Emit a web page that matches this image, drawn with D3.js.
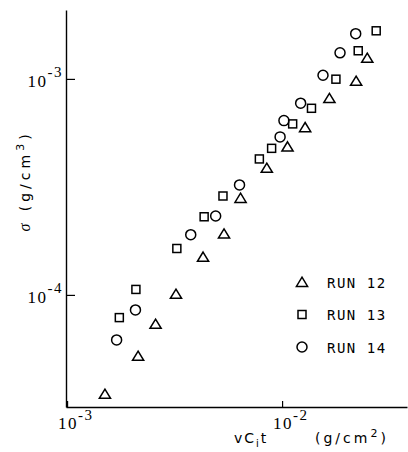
<!DOCTYPE html>
<html><head><meta charset="utf-8">
<script src="https://cdn.jsdelivr.net/npm/d3@7"></script>
<style>body{margin:0;background:#fff;overflow:hidden}</style>
</head><body>
<svg id="c" width="408" height="452"></svg>
<script>
// RUN 12 (triangles)
const run12X = [1.50e-3, 2.14e-3, 2.58e-3, 3.21e-3, 4.29e-3, 5.37e-3, 6.41e-3, 8.49e-3, 1.06e-2, 1.28e-2, 1.66e-2, 2.21e-2, 2.49e-2];
const run12Y = [3.48e-5, 5.22e-5, 7.34e-5, 1.01e-4, 1.50e-4, 1.92e-4, 2.81e-4, 3.87e-4, 4.86e-4, 5.97e-4, 8.14e-4, 9.79e-4, 1.25e-3];
// RUN 13 (squares)
const run13X = [1.75e-3, 2.09e-3, 3.24e-3, 4.34e-3, 5.31e-3, 7.84e-3, 8.94e-3, 1.12e-2, 1.37e-2, 1.78e-2, 2.26e-2, 2.74e-2];
const run13Y = [7.85e-5, 1.06e-4, 1.64e-4, 2.30e-4, 2.87e-4, 4.26e-4, 4.77e-4, 6.19e-4, 7.31e-4, 9.97e-4, 1.35e-3, 1.67e-3];
// RUN 14 (circles)
const run14X = [1.70e-3, 2.08e-3, 3.76e-3, 4.91e-3, 6.34e-3, 9.79e-3, 1.02e-2, 1.22e-2, 1.55e-2, 1.86e-2, 2.20e-2];
const run14Y = [6.19e-5, 8.52e-5, 1.90e-4, 2.32e-4, 3.23e-4, 5.39e-4, 6.41e-4, 7.72e-4, 1.04e-3, 1.32e-3, 1.62e-3];

const seriesNames = ["RUN 12", "RUN 13", "RUN 14"];
const seriesShapes = ["triangle", "square", "circle"];
const xTicks = [1e-3, 1e-2];
const xTickExp = ["-3", "-2"];
const yTicks = [1e-4, 1e-3];
const yTickExp = ["-4", "-3"];

const svg = d3.select("#c");
const W = 408, H = 452;
const m = {left: 66, right: 1, top: 10, bottom: 45};

const x = d3.scaleLog()
  .domain([Math.pow(10, -3.005), Math.pow(10, -1.419)])
  .range([m.left, W - m.right]);
const y = d3.scaleLog()
  .domain([Math.pow(10, -4.519), Math.pow(10, -2.681)])
  .range([H - m.bottom, m.top]);

// axes
const gx = svg.append("g").attr("transform", `translate(0,${H - m.bottom})`)
  .call(d3.axisBottom(x).tickValues(xTicks).tickSizeInner(-6).tickSizeOuter(0).tickFormat(""));
const gy = svg.append("g").attr("transform", `translate(${m.left},0)`)
  .call(d3.axisLeft(y).tickValues(yTicks).tickSizeInner(-9).tickSizeOuter(0).tickFormat(""));
[gx, gy].forEach(g => {
  g.selectAll("path.domain").attr("stroke", "#000").attr("stroke-width", 1.4);
  g.selectAll(".tick line").attr("stroke", "#000").attr("stroke-width", 1.2);
});

const serif = "'Liberation Serif', 'DejaVu Serif', serif";
const sans = "'DejaVu Sans', 'Liberation Sans', sans-serif";

// x tick labels
xTicks.forEach((t, i) => {
  const tx = svg.append("text")
    .attr("x", x(t) - 9).attr("y", H - m.bottom + 22)
    .attr("font-family", serif).attr("font-size", 17).attr("fill", "#000")
    .attr("letter-spacing", 1.5);
  tx.append("tspan").text("10");
  tx.append("tspan").attr("dy", -9).attr("font-size", 15).text(xTickExp[i]);
});
// y tick labels
yTicks.forEach((t, i) => {
  const ty = svg.append("text")
    .attr("x", m.left - 3).attr("y", y(t) + 8)
    .attr("text-anchor", "end")
    .attr("font-family", serif).attr("font-size", 17).attr("fill", "#000")
    .attr("letter-spacing", 1.5);
  ty.append("tspan").text("10");
  ty.append("tspan").attr("dy", -10).attr("font-size", 15).text(yTickExp[i]);
});

// axis titles
const xt = svg.append("text")
  .attr("x", 234).attr("y", 443)
  .attr("font-family", sans).attr("font-size", 14).attr("fill", "#000")
  .attr("letter-spacing", 2);
xt.append("tspan").text("vC");
xt.append("tspan").attr("dy", 4).attr("font-size", 10).text("i");
xt.append("tspan").attr("dy", -4).text("t");
const xt2 = svg.append("text")
  .attr("x", 315).attr("y", 443)
  .attr("font-family", sans).attr("font-size", 14).attr("fill", "#000")
  .attr("letter-spacing", 3);
xt2.append("tspan").text("(g/cm");
xt2.append("tspan").attr("dy", -6).attr("font-size", 11).text("2");
xt2.append("tspan").attr("dy", 6).text(")");

const yt = svg.append("text")
  .attr("transform", "translate(30,181) rotate(-90)")
  .attr("text-anchor", "middle")
  .attr("font-family", sans).attr("font-size", 14).attr("fill", "#000")
  .attr("letter-spacing", 4);
yt.append("tspan").attr("font-family", serif).attr("font-style", "italic").attr("font-size", 16).text("σ");
yt.append("tspan").text("  (g/cm");
yt.append("tspan").attr("dy", -6).attr("font-size", 11).text("3");
yt.append("tspan").attr("dy", 6).text(")");

// markers
function drawMarker(g, shape) {
  if (shape === "triangle") {
    g.append("path").attr("d", "M0,-4.8L5.6,4.4L-5.6,4.4Z");
  } else if (shape === "square") {
    g.append("rect").attr("x", -4).attr("y", -4).attr("width", 8).attr("height", 8);
  } else {
    g.append("circle").attr("r", 5);
  }
}
const series = [
  {xs: run12X, ys: run12Y},
  {xs: run13X, ys: run13Y},
  {xs: run14X, ys: run14Y}
];
series.forEach((s, si) => {
  const pts = s.xs.map((v, i) => [v, s.ys[i]]);
  const g = svg.append("g").attr("fill", "none").attr("stroke", "#000").attr("stroke-width", 1.5);
  g.selectAll("g").data(pts).join("g")
    .attr("transform", d => `translate(${x(d[0])},${y(d[1])})`)
    .each(function() { drawMarker(d3.select(this), seriesShapes[si]); });
});

// legend
const lg = svg.append("g");
seriesNames.forEach((n, i) => {
  const row = lg.append("g").attr("transform", `translate(302,${282 + i * 32.5})`);
  const mk = row.append("g").attr("fill", "none").attr("stroke", "#000").attr("stroke-width", 1.5);
  drawMarker(mk, seriesShapes[i]);
  row.append("text").attr("x", 25).attr("y", 5.5)
    .attr("font-family", "'DejaVu Sans Mono', monospace").attr("font-size", 14)
    .attr("letter-spacing", 1.5).attr("fill", "#000").text(n);
});
</script>
</body></html>
